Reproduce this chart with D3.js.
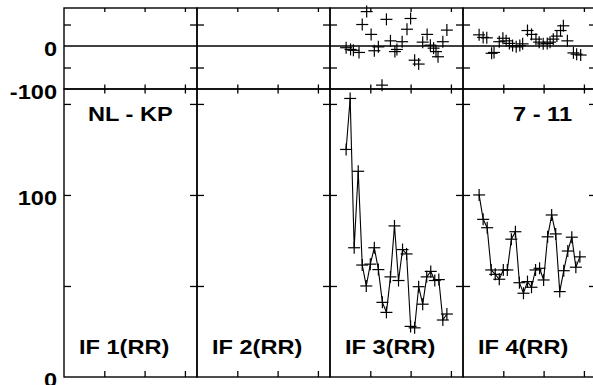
<!DOCTYPE html>
<html><head><meta charset="utf-8">
<script src="https://cdn.jsdelivr.net/npm/d3@7"></script>
<style>
html,body{margin:0;padding:0;background:#fff;overflow:hidden;}
svg{display:block;}
</style></head>
<body>
<svg id="c" width="593" height="385"></svg>
<script>
// ---- data ----
const panelLabels = ["IF 1(RR)", "IF 2(RR)", "IF 3(RR)", "IF 4(RR)"];
const titleLeft = "NL - KP";
const titleRight = "7 - 11";
const xTicks = [10, 20, 30];
const topTicks = [-50, 50];
const topLabels = [0, -100];
const bottomTicks = [50, 100, 150];
const bottomLabels = [100, 0];

const if3X = [4,5,6,7,8,9,10,11,12,13,14,15,16,17,18,19,20,21,22,23,24,25,26,27,28,29];
const if3Vals = [125,153,71,113,61.5,50,62,71,59,41,35.5,55,83,53,70,67.6,27.8,27,49.6,40,55,58,53,53.5,31.3,34.6];
const if4X = [4,5,6,7,8,9,10,11,12,13,14,15,16,17,18,19,20,21,22,23,24,25,26,27,28,29];
const if4Vals = [100,86.6,82,58.8,56.4,53.7,58.8,58.8,75.7,79.8,51.8,46,52.4,49.3,58.8,59.7,53.3,77,89,78.6,46.9,58.4,69.2,76.8,60.3,66];

const res3X = [4,5.1,5.8,7.2,8,9.1,10.2,11,12,12.9,14,15,16.1,16.6,17.9,19.1,20,21,22,23,24.1,24.9,25.7,26.3,26.8,28,29];
const res3Vals = [-4,-8,-10,-15,50,80,27,-11,-2,-91,62,12,-13,-8,10,39,64,-33,-42,9,27,2,-5,-13,-25,10,37];
const res4X = [4,5,5.9,7.1,7.7,9,9.9,10.7,11.5,12.3,13.2,14.1,14.8,16,17,18.1,18.9,19.9,20.9,21.6,22.4,23.3,24.2,24.9,25.9,27.4,28.2,29.2];
const res4Vals = [26,20,19,-17,-15,10,18,12,6,1,-2,1,5,36,27,16,9,5,6,9,16,23,36,47,12,-16,-19,-21];

const series = [
  {x: [], y: [], rx: [], ry: []},
  {x: [], y: [], rx: [], ry: []},
  {x: if3X, y: if3Vals, rx: res3X, ry: res3Vals},
  {x: if4X, y: if4Vals, rx: res4X, ry: res4Vals}
];

// ---- layout ----
const svg = d3.select("#c");
const leftX = 64, pw = 133, topY = 8, midY = 89, bottomY = 377;
const yTop = d3.scaleLinear().domain([-100, 88.4]).range([midY, topY]);
const yBot = d3.scaleLinear().domain([0, 158.2]).range([bottomY, midY]);
const font = "'Liberation Sans', Arial, sans-serif";
const hs = 1.15;

function addText(x, y, txt, anchor) {
  svg.append("text")
    .attr("transform", `translate(${x},${y}) scale(${hs},1)`)
    .attr("text-anchor", anchor || "start")
    .attr("font-family", font).attr("font-weight", "bold")
    .attr("font-size", 20.5).attr("fill", "#000").text(txt);
}
function crosses(g, xs, ys, xsc, ysc) {
  const s = 6;
  xs.forEach((xv, i) => {
    const cx = xsc(xv), cy = ysc(ys[i]);
    g.append("line").attr("x1", cx - s).attr("x2", cx + s).attr("y1", cy).attr("y2", cy);
    g.append("line").attr("x1", cx).attr("x2", cx).attr("y1", cy - s).attr("y2", cy + s);
  });
}
function cleanAxis(g) {
  g.select(".domain").remove();
  g.selectAll(".tick line").attr("stroke", "#000").attr("stroke-width", 1.3);
}

series.forEach((s, i) => {
  const x0 = leftX + i * pw;
  const x = d3.scaleLinear().domain([0, 33]).range([x0, x0 + pw]);
  const g = svg.append("g");

  // x ticks
  cleanAxis(g.append("g").attr("transform", `translate(0,${topY})`)
    .call(d3.axisBottom(x).tickValues(xTicks).tickSize(4).tickFormat("")));
  cleanAxis(g.append("g").attr("transform", `translate(0,${midY})`)
    .call(d3.axisTop(x).tickValues(xTicks).tickSize(4.5).tickFormat("")));
  cleanAxis(g.append("g").attr("transform", `translate(0,${midY})`)
    .call(d3.axisBottom(x).tickValues(xTicks).tickSize(4.5).tickFormat("")));
  cleanAxis(g.append("g").attr("transform", `translate(0,${bottomY})`)
    .call(d3.axisTop(x).tickValues(xTicks).tickSize(6).tickFormat("")));
  // y ticks both edges
  [[yTop, topTicks], [yBot, bottomTicks]].forEach(([ys, tv]) => {
    cleanAxis(g.append("g").attr("transform", `translate(${x0},0)`)
      .call(d3.axisRight(ys).tickValues(tv).tickSize(7).tickFormat("")));
    cleanAxis(g.append("g").attr("transform", `translate(${x0 + pw},0)`)
      .call(d3.axisLeft(ys).tickValues(tv).tickSize(7).tickFormat("")));
  });

  // panel borders
  g.append("rect").attr("x", x0).attr("y", topY).attr("width", pw).attr("height", midY - topY)
    .attr("fill", "none").attr("stroke", "#000").attr("stroke-width", 1.4);
  g.append("rect").attr("x", x0).attr("y", midY).attr("width", pw).attr("height", bottomY - midY)
    .attr("fill", "none").attr("stroke", "#000").attr("stroke-width", 1.4);
  // zero line
  g.append("line").attr("x1", x0).attr("x2", x0 + pw).attr("y1", yTop(0)).attr("y2", yTop(0))
    .attr("stroke", "#000").attr("stroke-width", 1.3);

  // data
  if (s.x.length) {
    const pts = s.x.map((v, k) => [x(v), yBot(s.y[k])]);
    g.append("path").attr("d", d3.line()(pts)).attr("fill", "none")
      .attr("stroke", "#000").attr("stroke-width", 1.1);
    const cg = g.append("g").attr("stroke", "#000").attr("stroke-width", 1.2);
    crosses(cg, s.x, s.y, x, yBot);
    crosses(cg, s.rx, s.ry, x, yTop);
  }

  addText(x0 + 15, 354, panelLabels[i], "start");
});

// left labels
topLabels.forEach(v => addText(57, yTop(v) + 10, String(v), "end"));
bottomLabels.forEach(v => addText(57, yBot(v) + 10, String(v), "end"));

addText(88, 121, titleLeft, "start");
addText(572, 121, titleRight, "end");
</script>
</body></html>
